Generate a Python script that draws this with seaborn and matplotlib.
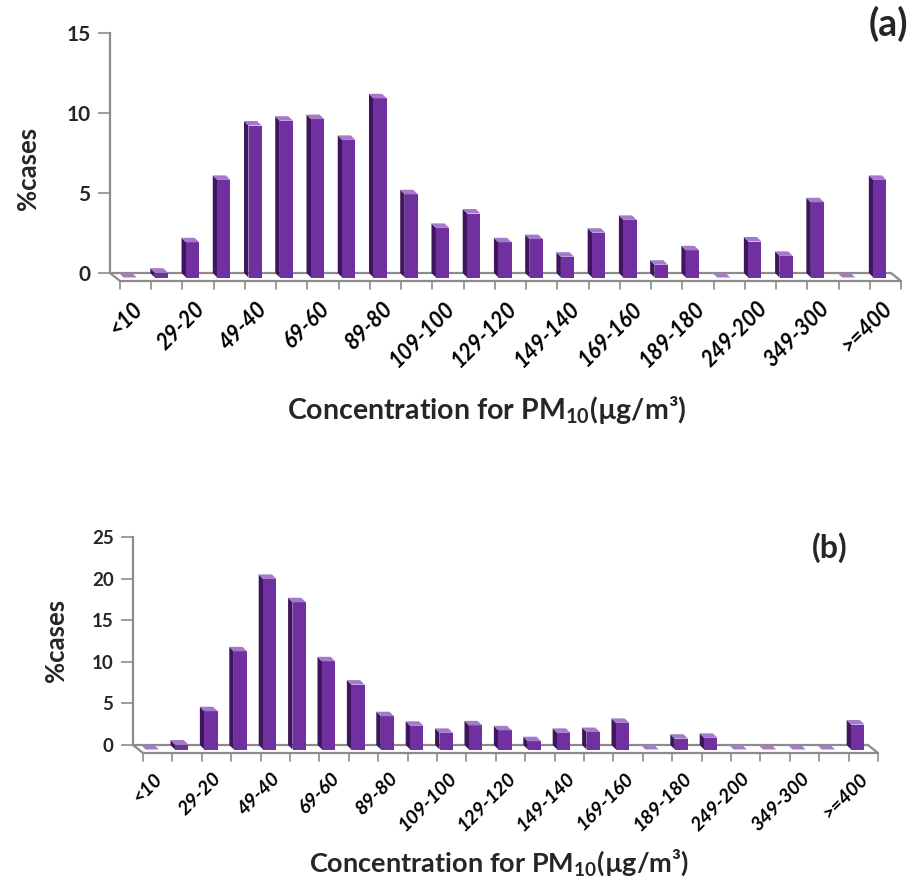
import matplotlib
matplotlib.use("Agg")
import matplotlib.pyplot as plt
import seaborn as sns
import pandas as pd
from matplotlib.patches import Polygon

# PM10 concentration bins (µg/m³), lowest to highest
categories = ["<10", "19-10", "29-20", "39-30", "49-40", "59-50", "69-60",
              "79-70", "89-80", "99-90", "109-100", "119-110", "129-120",
              "139-130", "149-140", "159-150", "169-160", "179-170",
              "189-180", "199-190", "249-200", "299-250", "349-300",
              "399-350", ">=400"]
tick_labels = categories[::2]

# share of cases per bin (%)
pct_a = [0, 0.3, 2.2, 6.1, 9.5, 9.8, 9.9, 8.6, 11.2, 5.2, 3.1, 4.0, 2.2,
         2.4, 1.3, 2.8, 3.6, 0.8, 1.7, 0, 2.25, 1.35, 4.7, 0, 6.1]
pct_b = [0, 0.6, 4.6, 11.8, 20.5, 17.7, 10.6, 7.8, 4.0, 2.85, 2.0, 2.9, 2.3,
         1.0, 2.0, 2.1, 3.2, 0, 1.3, 1.4, 0, 0, 0, 0, 3.0]

sns.set_theme(style="white")
plt.rcParams["font.family"] = ["Lato", "DejaVu Sans"]
plt.rcParams["mathtext.fontset"] = "custom"
plt.rcParams["mathtext.rm"] = "Lato"
plt.rcParams["mathtext.bf"] = "Lato:bold"

W, H = 918, 885
fig = plt.figure(figsize=(W / 100, H / 100), dpi=100)

FRONT = "#7030A0"
SIDE = "#3F165E"
TOP = "#A47ACB"
GRID = "#8C8C8C"


def panel(box, vals, ymax, ystep, letter, letter_xy, letter_size,
          ylab_xy, xlab_xy, xlab_size, tick_size, lab_size, bar_w,
          label_drop):
    left, top, right, bottom = box
    ax = fig.add_axes([left / W, 1 - bottom / H, (right - left) / W,
                       (bottom - top) / H])
    df = pd.DataFrame({"bin": categories, "pct": vals})
    sns.barplot(data=df, x="bin", y="pct", order=categories, color=FRONT,
                saturation=1, width=bar_w, ax=ax, errorbar=None, zorder=3)
    x0, x1 = -0.5, len(categories) - 0.5
    ax.set_xlim(x0, x1)
    ax.set_ylim(0, ymax)
    sx = (x1 - x0) / (right - left)      # data units per pixel
    sy = ymax / (bottom - top)

    # depth offsets (pixels) for bars and floor
    bdx, bdy = 4.5, 4.5
    fdx, fdy = 10, 8

    for p in list(ax.patches):
        bx, bw, bh = p.get_x(), p.get_width(), p.get_height()
        ox, oy = bdx * sx, bdy * sy
        side = Polygon([(bx, 0), (bx, bh), (bx + ox, bh - oy), (bx + ox, -oy)],
                       closed=True, facecolor=SIDE, edgecolor="none",
                       zorder=2.5, clip_on=False)
        cap = Polygon([(bx, bh), (bx + bw, bh), (bx + bw + ox, bh - oy),
                       (bx + ox, bh - oy)], closed=True, facecolor=TOP,
                      edgecolor="none", zorder=3.5, clip_on=False)
        ax.add_patch(side)
        ax.add_patch(cap)
        p.set_x(bx + ox)
        p.set_y(-oy)
        p.set_edgecolor("none")
        p.set_clip_on(False)

    # floor outline with category ticks on its front edge
    fx, fy = fdx * sx, fdy * sy
    kw = dict(color=GRID, lw=1.6, clip_on=False, zorder=1)
    ax.plot([x0, x1], [0, 0], **kw)
    ax.plot([x0, x0 + fx], [0, -fy], **kw)
    ax.plot([x1, x1 + fx], [0, -fy], **kw)
    ax.plot([x0 + fx, x1 + fx], [-fy, -fy], **kw)
    for k in range(len(categories) + 1):
        xb = x0 + k + fx
        ax.plot([xb, xb], [-fy, -fy - 8 * sy], color=GRID, lw=1.2,
                clip_on=False, zorder=1)

    # rotated category labels (every second bin)
    for i in range(0, len(categories), 2):
        ax.text(i + 6 * sx, -label_drop * sy, categories[i], rotation=45,
                rotation_mode="anchor", ha="right", va="top",
                fontsize=tick_size, fontweight="bold", fontstyle="italic",
                color="black")

    ax.set_xticks([])
    ax.set_xlabel("")
    ax.set_yticks(range(0, ymax + 1, ystep))
    ax.tick_params(axis="y", length=9, width=1.2, color=GRID, pad=5,
                   labelsize=lab_size, left=True)
    for t in ax.get_yticklabels():
        t.set_fontweight("bold")
    ax.set_ylabel("")
    for s in ["top", "right", "bottom"]:
        ax.spines[s].set_visible(False)
    ax.spines["left"].set_color(GRID)
    ax.spines["left"].set_linewidth(1.6)
    ax.grid(False)

    fig.text(ylab_xy[0] / W, 1 - ylab_xy[1] / H, "%cases", rotation=90,
             ha="center", va="center", fontsize=18.5, fontweight="bold")
    fig.text(xlab_xy[0] / W, 1 - xlab_xy[1] / H,
             "Concentration for PM$_{\\mathbf{10}}$(µg/m³)",
             ha="center", va="center", fontsize=xlab_size, fontweight="bold")
    fig.text(letter_xy[0] / W, 1 - letter_xy[1] / H, letter, ha="center",
             va="center", fontsize=letter_size, fontweight="bold")
    return ax


panel((110, 33, 891, 273), pct_a, 15, 5, "(a)", (888, 24), 27,
      (28, 168), (487, 410), 20.5, 15.5, 15, 0.42, 25)
panel((133, 537, 868, 745), pct_b, 25, 5, "(b)", (830, 548), 23,
      (56, 640), (499, 862), 19.5, 14, 13.5, 0.45, 25)

fig.savefig("out.png", dpi=100, facecolor="white")
